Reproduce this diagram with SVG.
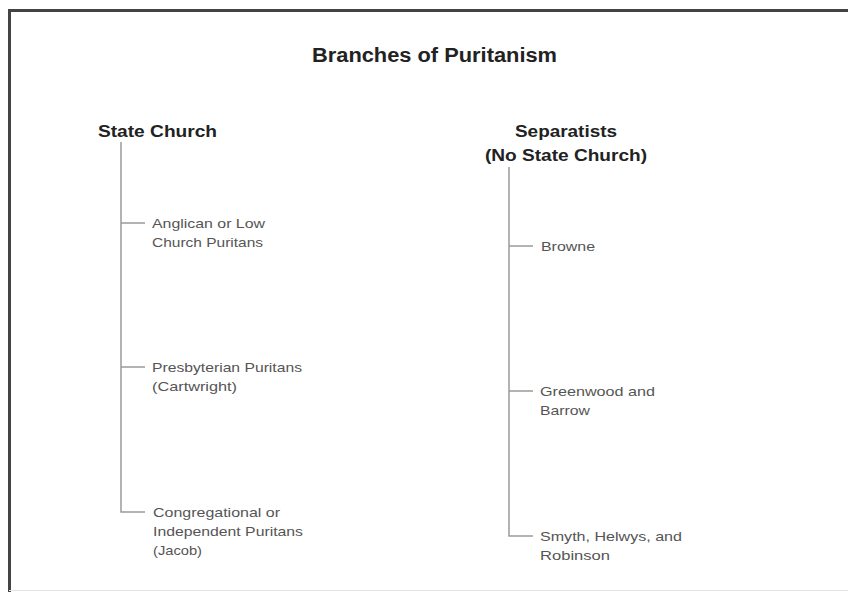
<svg xmlns="http://www.w3.org/2000/svg" width="848" height="592" viewBox="0 0 848 592">
  <style>
    .frame { fill: none; stroke: #444; stroke-width: 3; }
    .title { font-family: "Liberation Sans", Arial, sans-serif; font-weight: bold; font-size: 20px; fill: #222; }
    .head { font-family: "Liberation Sans", Arial, sans-serif; font-weight: bold; font-size: 16px; fill: #222; }
    .item { font-family: "Liberation Sans", Arial, sans-serif; font-size: 13.5px; fill: #555; }
    .trunk, .tick { fill: none; stroke: #9a9a9a; stroke-width: 1.5; }
  </style>

  <rect width="848" height="592" fill="#ffffff"/>

  <!-- page frame: heavy top and left rules, faint bottom rule -->
  <path class="frame" d="M9.5,592 V10.5 H848"/>
  <line x1="9" y1="590.5" x2="848" y2="590.5" stroke="#e4e4e4" stroke-width="1"/>

  <text class="title" x="312" y="62" textLength="245" lengthAdjust="spacingAndGlyphs">Branches of Puritanism</text>

  <!-- connectors -->
  <g id="connectors">
    <path class="trunk" d="M121,142 V512 H145"/>
    <line class="tick" x1="121" y1="223" x2="145" y2="223"/>
    <line class="tick" x1="121" y1="367" x2="145" y2="367"/>
    <path class="trunk" d="M509,167 V536 H533"/>
    <line class="tick" x1="509" y1="246" x2="533" y2="246"/>
    <line class="tick" x1="509" y1="391" x2="533" y2="391"/>
  </g>

  <!-- left branch -->
  <g id="state-church">
    <text class="head" x="98" y="137" textLength="119" lengthAdjust="spacingAndGlyphs">State Church</text>
  </g>
  <g id="anglican">
    <text class="item" x="152" y="228" textLength="113" lengthAdjust="spacingAndGlyphs">Anglican or Low</text>
    <text class="item" x="152" y="247" textLength="111" lengthAdjust="spacingAndGlyphs">Church Puritans</text>
  </g>
  <g id="presbyterian">
    <text class="item" x="152" y="372" textLength="150" lengthAdjust="spacingAndGlyphs">Presbyterian Puritans</text>
    <text class="item" x="152" y="391" textLength="85" lengthAdjust="spacingAndGlyphs">(Cartwright)</text>
  </g>
  <g id="congregational">
    <text class="item" x="153" y="517" textLength="127" lengthAdjust="spacingAndGlyphs">Congregational or</text>
    <text class="item" x="153" y="536" textLength="150" lengthAdjust="spacingAndGlyphs">Independent Puritans</text>
    <text class="item" x="153" y="555" textLength="49" lengthAdjust="spacingAndGlyphs">(Jacob)</text>
  </g>

  <!-- right branch -->
  <g id="separatists">
    <text class="head" x="515" y="137" textLength="102" lengthAdjust="spacingAndGlyphs">Separatists</text>
    <text class="head" x="485" y="161" textLength="162" lengthAdjust="spacingAndGlyphs">(No State Church)</text>
  </g>
  <g id="browne">
    <text class="item" x="541" y="251" textLength="54" lengthAdjust="spacingAndGlyphs">Browne</text>
  </g>
  <g id="greenwood-barrow">
    <text class="item" x="540" y="396" textLength="115" lengthAdjust="spacingAndGlyphs">Greenwood and</text>
    <text class="item" x="540" y="415" textLength="50" lengthAdjust="spacingAndGlyphs">Barrow</text>
  </g>
  <g id="smyth-helwys-robinson">
    <text class="item" x="540" y="541" textLength="142" lengthAdjust="spacingAndGlyphs">Smyth, Helwys, and</text>
    <text class="item" x="540" y="560" textLength="70" lengthAdjust="spacingAndGlyphs">Robinson</text>
  </g>
</svg>
